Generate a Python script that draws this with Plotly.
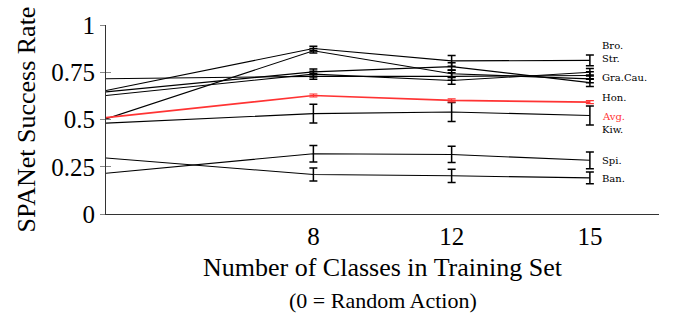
import plotly.graph_objects as go

# x categories (number of training classes) and their slot on the axis
classes = [0, 8, 12, 15]
class_slot = [0, 3, 5, 7]
tick_labels = ["8", "12", "15"]

series_names = ["Bro.", "Str.", "Gra.", "Cau.", "Hon.", "Kiw.", "Spi.", "Ban."]
bro = [0.653, 0.876, 0.810, 0.813]
str_ = [0.503, 0.864, 0.742, 0.715]
gra = [0.646, 0.752, 0.780, 0.695]
cau = [0.627, 0.740, 0.706, 0.750]
hon = [0.716, 0.728, 0.728, 0.733]
kiw = [0.481, 0.531, 0.540, 0.521]
spi = [0.216, 0.319, 0.315, 0.284]
ban = [0.296, 0.209, 0.202, 0.191]
avg = [0.510, 0.627, 0.601, 0.592]

# error (half-width) at 8, 12, 15 classes
bro_err = [0.012, 0.028, 0.028]
str_err = [0.012, 0.020, 0.020]
gra_err = [0.015, 0.020, 0.020]
cau_err = [0.015, 0.020, 0.020]
hon_err = [0.015, 0.020, 0.020]
kiw_err = [0.050, 0.050, 0.050]
spi_err = [0.044, 0.043, 0.044]
ban_err = [0.035, 0.035, 0.031]
avg_err = [0.008, 0.008, 0.008]

label_text = ["Bro.", "Str.", "Gra.Cau.", "Hon.", "Avg.", "Kiw.", "Spi.", "Ban."]
label_y = [0.890, 0.822, 0.723, 0.615, 0.518, 0.446, 0.285, 0.188]
label_color = ["black", "black", "black", "black", "#ff3333", "black", "black", "black"]

series = [bro, str_, gra, cau, hon, kiw, spi, ban]
errors = [bro_err, str_err, gra_err, cau_err, hon_err, kiw_err, spi_err, ban_err]

SERIF = "Liberation Serif"

fig = go.Figure()

def add_series(vals, errs, color, width, name, ethick):
    fig.add_trace(go.Scatter(x=class_slot, y=vals, mode="lines",
                             line=dict(color=color, width=width),
                             name=name, showlegend=False, hoverinfo="skip"))
    fig.add_trace(go.Scatter(x=class_slot[1:], y=vals[1:], mode="markers",
                             marker=dict(size=1, color="rgba(0,0,0,0)"),
                             error_y=dict(type="data", array=errs, visible=True,
                                          color=color, thickness=ethick, width=4),
                             showlegend=False, hoverinfo="skip"))

for vals, errs, nm in zip(series, errors, series_names):
    add_series(vals, errs, "black", 1.1, nm, 1.5)
add_series(avg, avg_err, "#ff3333", 1.6, "Avg.", 1.1)

for t, yv, c in zip(label_text, label_y, label_color):
    fig.add_annotation(x=7.15, y=yv, text=t, showarrow=False, xanchor="left",
                       yanchor="middle", font=dict(family="DejaVu Serif", size=10, color=c))

fig.add_annotation(xref="paper", yref="paper", x=0.5, y=-0.46, text="(0 = Random Action)",
                   showarrow=False, xanchor="center", yanchor="middle",
                   font=dict(family=SERIF, size=22, color="black"))

fig.update_layout(
    width=674, height=318,
    margin=dict(l=106, r=15, t=23, b=104),
    plot_bgcolor="white", paper_bgcolor="white",
    font=dict(family=SERIF, color="black"),
    xaxis=dict(range=[0, 8], tickvals=class_slot[1:], ticktext=tick_labels,
               showgrid=False, zeroline=False, showline=True, linecolor="#333",
               linewidth=1, ticks="", tickfont=dict(size=25),
               title=dict(text="Number of Classes in Training Set", font=dict(size=26), standoff=8)),
    yaxis=dict(range=[0, 1], tickvals=[0, 0.25, 0.5, 0.75, 1],
               ticktext=["0", "0.25", "0.5", "0.75", "1"],
               showgrid=False, zeroline=False, showline=True, linecolor="#333",
               linewidth=1, ticks="outside", ticklen=5, tickcolor="#888",
               tickfont=dict(size=25),
               title=dict(text="SPANet Success Rate", font=dict(size=26), standoff=8)),
    yaxis2=dict(range=[0, 1], overlaying="y", tickvals=[0, 0.25, 0.5, 0.75, 1],
                showticklabels=False, ticks="inside", ticklen=5, tickcolor="#888",
                showgrid=False, zeroline=False, showline=False),
)
# dummy trace to activate yaxis2 inside ticks
fig.add_trace(go.Scatter(x=[0], y=[0], yaxis="y2", mode="markers",
                         marker=dict(size=1, color="rgba(0,0,0,0)"),
                         showlegend=False, hoverinfo="skip"))

fig.write_html("out.html", config={"displayModeBar": False},
               post_script="document.body.style.margin='0';document.body.style.overflow='hidden';")
